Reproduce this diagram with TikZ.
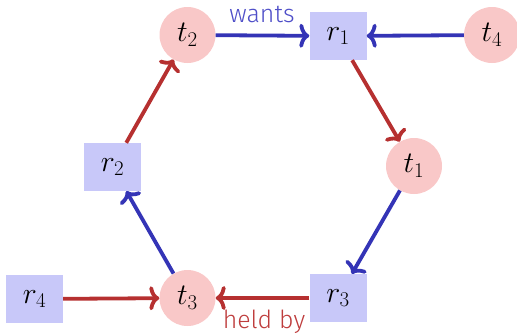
\documentclass[tikz,border=0pt]{standalone}
\usepackage{fix-cm}
\usepackage{fontspec}
\setsansfont{Fira Sans}[UprightFont=* Light]
\usetikzlibrary{arrows.meta}
\definecolor{arrblue}{RGB}{52,52,182}
\definecolor{arrred}{RGB}{182,48,48}
\definecolor{txtblue}{RGB}{78,78,200}
\definecolor{txtred}{RGB}{190,60,60}
\definecolor{tfill}{RGB}{249,200,200}
\definecolor{rfill}{RGB}{200,200,249}
\begin{document}
\begin{tikzpicture}[x=1bp,y=-1bp,
  tnode/.style={circle, fill=tfill, minimum size=56bp, inner sep=0pt, font=\fontsize{30}{34}\selectfont},
  rnode/.style={rectangle, fill=rfill, minimum width=57bp, minimum height=48bp, inner sep=0pt, font=\fontsize{30}{34}\selectfont},
  wantarr/.style={draw=arrblue, line width=3.8bp, -{To[length=10bp,width=24bp]}},
  heldarr/.style={draw=arrred, line width=3.8bp, -{To[length=10bp,width=24bp]}},
  lbl/.style={font=\sffamily\fontsize{25}{30}\selectfont, inner sep=0pt, anchor=base}]
\useasboundingbox (0,0) rectangle (517,335);
\node[tnode] (t2) at (187.5,35) {$t_2$};
\node[rnode] (r1) at (338,36) {$r_1$};
\node[tnode] (t4) at (492,35) {$t_4$};
\node[rnode] (r2) at (112.5,167) {$r_2$};
\node[tnode] (t1) at (414,166) {$t_1$};
\node[rnode] (r4) at (34.5,299) {$r_4$};
\node[tnode] (t3) at (187.5,298) {$t_3$};
\node[rnode] (r3) at (338,298) {$r_3$};
\draw[wantarr] (t2) -- (r1);
\draw[wantarr] (t4) -- (r1);
\draw[heldarr] (r1) -- (t1);
\draw[wantarr] (t1) -- (r3);
\draw[heldarr] (r3) -- (t3);
\draw[heldarr] (r4) -- (t3);
\draw[wantarr] (t3) -- (r2);
\draw[heldarr] (r2) -- (t2);
\node[lbl, text=txtblue] (wl) at (262,22) {wants};
\node[lbl, text=txtred] (hl) at (264,328.5) {held by};
\end{tikzpicture}
\end{document}
